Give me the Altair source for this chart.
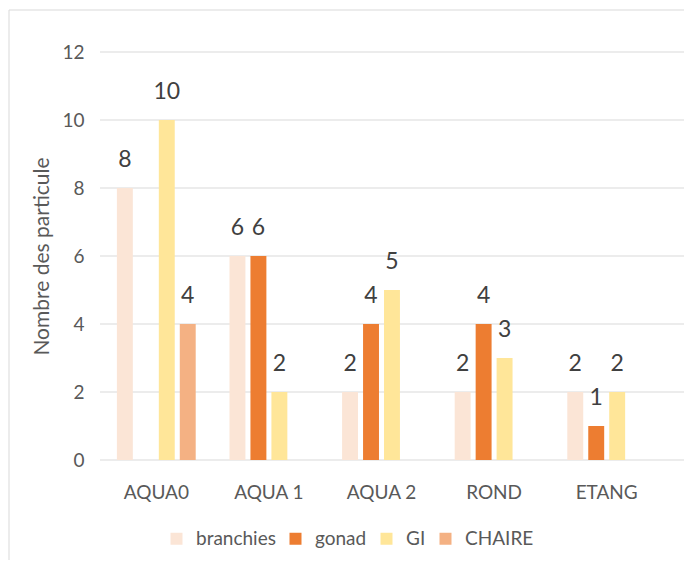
import altair as alt
import pandas as pd

categories = ["AQUA0", "AQUA 1", "AQUA 2", "ROND", "ETANG"]
series = ["branchies", "gonad", "GI", "CHAIRE"]
branchies = [8, 6, 2, 2, 2]
gonad = [0, 6, 4, 4, 1]
gi = [10, 2, 5, 3, 2]
chaire = [4, 0, 0, 0, 0]
colors = ["#FBE5D6", "#ED7D31", "#FFE699", "#F4B183"]
y_ticks = [0, 2, 4, 6, 8, 10, 12]

rows = []
for s, vals in zip(series, [branchies, gonad, gi, chaire]):
    for c, v in zip(categories, vals):
        rows.append({"cat": c, "serie": s, "val": v})
df = pd.DataFrame(rows)
grid_df = pd.DataFrame({"val": y_ticks})

FONT = "Lato"
W = 584

x_enc = alt.X("cat:N", sort=categories, title=None,
              scale=alt.Scale(range=[0, 563], paddingInner=0.3, paddingOuter=0.15),
              axis=alt.Axis(labelAngle=0))
xo_enc = alt.XOffset("serie:N", sort=series,
                     scale=alt.Scale(domain=series, paddingInner=0.24, paddingOuter=0))
y_enc = alt.Y("val:Q", title="Nombre des particule",
              scale=alt.Scale(domain=[0, 12], nice=False),
              axis=alt.Axis(values=y_ticks))

grid = alt.Chart(grid_df).mark_rule(color="#D9D9D9", strokeWidth=1).encode(
    y=y_enc, x=alt.value(0), x2=alt.value(W)
)

bars = alt.Chart(df).mark_bar().encode(
    x=x_enc,
    xOffset=xo_enc,
    y=y_enc,
    color=alt.Color("serie:N", sort=series,
                    scale=alt.Scale(domain=series, range=colors),
                    legend=alt.Legend(title=None, orient="none", legendX=67, legendY=477,
                                      direction="horizontal", symbolType="square",
                                      symbolSize=144, symbolStrokeWidth=0,
                                      labelFontSize=19, labelColor="#595959",
                                      labelFont=FONT, columnPadding=10, labelOffset=10)),
)

labels = alt.Chart(df).transform_filter("datum.val > 0").mark_text(
    baseline="alphabetic", dy=-21, fontSize=23, color="#404040", font=FONT
).encode(
    x=x_enc,
    xOffset=xo_enc,
    y=y_enc,
    text="val:Q",
)

frame = alt.Chart(pd.DataFrame({"a": [0]})).mark_rect(
    fill=None, stroke="#D9D9D9", strokeWidth=1
).encode(
    x=alt.value(-91), x2=alt.value(700), y=alt.value(-42), y2=alt.value(600)
)

chart = alt.layer(frame, grid, bars, labels).properties(
    width=W, height=408,
    autosize=alt.AutoSizeParams(type="none"),
    padding={"left": 92, "top": 44, "right": 0, "bottom": 100},
).configure_view(stroke=None).configure_axisY(
    grid=False, domain=False, ticks=False,
    labelFontSize=19, labelColor="#595959", labelFont=FONT, labelPadding=16,
    titleFontSize=21, titleColor="#595959", titleFont=FONT, titleFontWeight="normal",
    titlePadding=9,
).configure_axisX(
    grid=False, domain=False, ticks=False,
    labelFontSize=19, labelColor="#595959", labelFont=FONT, labelPadding=23,
)

chart.save("out.html", embed_options={"renderer": "svg", "actions": False})
